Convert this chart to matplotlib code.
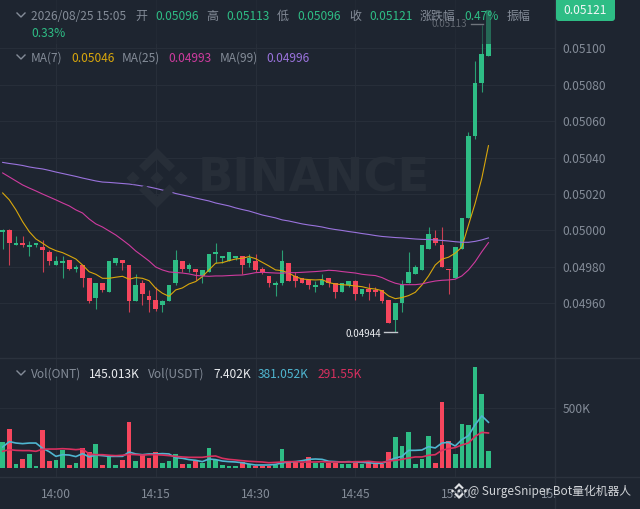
import matplotlib
matplotlib.use('Agg')
import matplotlib.pyplot as plt
from matplotlib.patches import Polygon, Rectangle, FancyBboxPatch
import numpy as np

plt.rcParams['font.family'] = ['Noto Sans CJK SC', 'DejaVu Sans']

# prices are in units of 0.00001
opens = [4999,5000,4992,4993,4991,4992,4991,4988,4981,4982,4984,4979,4981,4974,4963,4971,4966,4982,4984,4981,4961,4971,4964,4962,4959,4961,4971,4983,4979,4979,4975,4977,4987,4985,4983,4985,4986,4982,4983,4979,4975,4970,4971,4982,4975,4974,4973,4969,4970,4974,4971,4966,4970,4972,4965,4968,4967,4967,4962,4951,4960,4971,4976,4978,4990,4996,4992,4979,4974,4990,5007,5052,5081,5096]
highs = [5001,5001,4997,4997,4994,4993,4995,4989,4986,4986,4984,4981,4981,4974,4971,4971,4983,4985,4984,4981,4976,4973,4967,4969,4962,4970,4989,4983,4982,4979,4978,4987,4993,4986,4988,4986,4986,4987,4987,4980,4975,4972,4989,4982,4977,4974,4973,4972,4976,4974,4971,4971,4972,4973,4968,4971,4969,4967,4962,4960,4973,4988,4981,4992,5002,5000,5002,4979,4991,5007,5054,5093,5113,5121]
lows = [4990,4981,4992,4991,4986,4991,4977,4981,4981,4974,4978,4977,4969,4960,4957,4966,4966,4981,4978,4955,4961,4959,4955,4956,4955,4961,4970,4977,4977,4973,4971,4977,4982,4982,4983,4984,4976,4980,4977,4976,4969,4964,4970,4972,4969,4971,4968,4966,4970,4969,4963,4966,4969,4962,4964,4962,4964,4960,4949,4944,4955,4971,4976,4978,4990,4992,4980,4965,4974,4990,5007,5050,5076,5096]
closes = [5000,4993,4993,4992,4992,4993,4989,4983,4983,4983,4979,4980,4974,4961,4971,4967,4983,4985,4982,4961,4970,4965,4962,4957,4961,4970,4984,4979,4981,4977,4978,4987,4988,4986,4988,4986,4981,4985,4978,4977,4971,4971,4983,4972,4972,4971,4970,4970,4973,4971,4966,4971,4972,4965,4968,4966,4966,4961,4949,4960,4970,4977,4980,4992,4998,4993,4980,4978,4991,5007,5052,5081,5097,5121]

ma7 = [5020.6,5016.8,5011.3,5004.8,4999.3,4995.3,4993,4990.5,4988.9,4987.8,4986.1,4984.3,4981,4977.3,4975.9,4973.7,4973.7,4974.3,4974.8,4973.2,4974.1,4973.7,4972.4,4968.2,4965.5,4963.8,4967.3,4968.4,4970.6,4971.9,4974.6,4978.3,4982,4982.3,4983.4,4984.3,4984.7,4985.6,4984.5,4982.5,4980.5,4978.3,4977.9,4976.5,4974.6,4973.3,4973,4972.8,4973,4971.3,4970.6,4970.2,4969.9,4969.5,4969.1,4968.2,4967.8,4966.9,4964,4962.5,4963.1,4964.2,4966,4970,4975,4981,4984.2,4985.3,4987.5,4990.8,5003,5014.9,5028.7,5046.6]
ma25 = [5031.6,5029.4,5027.2,5025,5023.3,5021.7,5020,5018.4,5016.8,5015.1,5013.5,5011.3,5009.6,5006.3,5003.6,5001.9,4999.7,4997.5,4994.8,4992,4988.7,4986,4983.2,4979.9,4978.3,4977.2,4976.9,4976.6,4976.1,4975.3,4975,4974.8,4975,4975,4975.2,4975.4,4975.5,4976.1,4976.8,4977,4976.8,4976.6,4976.5,4976.8,4976.8,4977,4977.2,4977.4,4977.7,4978.1,4977.9,4977.4,4977,4976.6,4975.9,4975.5,4975.2,4974.1,4972.4,4971,4970.2,4970.2,4970.2,4970.6,4971.5,4972.2,4972.6,4972.8,4973.2,4975,4978.3,4982.8,4988.3,4993.3]
ma99 = [5037.4,5036.8,5036.3,5035.7,5034.9,5034.3,5033.8,5033,5032.1,5031.3,5030.5,5029.7,5028.8,5028,5027.2,5026.6,5026.4,5026.1,5025.8,5025.5,5025,5024.4,5023.9,5023.1,5022.2,5021.4,5020.3,5019.5,5018.7,5017.8,5017,5016.2,5015.1,5014.3,5013.5,5012.4,5011.5,5010.7,5009.6,5008.5,5007.7,5006.9,5005.8,5005.2,5004.4,5003.6,5003,5002.5,5001.9,5001.1,5000.5,5000,4999.4,4998.9,4998.3,4997.8,4997.2,4996.7,4996.4,4996.1,4995.9,4995.6,4995.3,4995.1,4995,4994.8,4994.5,4994.2,4993.8,4993.5,4993.5,4994,4994.8,4995.9]

# volume, in thousands
volume = [220,325,33,75,117,20,314,58,70,153,25,44,170,136,197,25,97,25,70,381,58,106,81,136,39,58,117,36,36,58,39,167,67,28,20,17,47,30,20,20,20,28,158,47,47,42,92,39,39,42,42,36,36,42,33,42,36,36,136,261,183,303,33,72,264,42,553,225,114,370,361,842,617,145]
vol_ma_a = [175,220,208,203,208,208,164,136,97,111,108,95,120,92,108,103,97,97,97,133,117,111,117,117,120,117,86,81,70,64,53,75,70,58,53,50,44,33,25,25,25,30,42,50,53,61,72,75,72,56,53,50,53,50,47,44,39,39,61,83,97,147,147,150,178,167,208,214,183,236,270,361,434,381]
vol_ma_b = [139,153,147,145,145,139,156,158,158,161,158,153,158,117,111,111,106,103,106,114,111,108,111,111,108,103,97,92,89,89,89,97,100,81,72,67,61,56,53,50,44,47,50,53,53,50,50,50,53,50,50,50,50,53,53,56,50,47,58,64,72,83,92,92,106,111,147,161,170,192,208,264,297,291.55]

price_ticks = [4960,4980,5000,5020,5040,5060,5080,5100]
time_pos = [8,23,38,53,68,83]
time_labels = ['14:00','14:15','14:30','14:45','15:00','15:15']

BG = '#1e2530'
GRID = '#272e39'
GREEN = '#2ebd85'
RED = '#f6465d'
GREY = '#848c98'
MARK = '#272e38'
W, H = 640, 509
idx = np.arange(len(opens))


def px_axes(x0, y0, x1, y1):
    return fig.add_axes([x0/W, 1-y1/H, (x1-x0)/W, (y1-y0)/H])


def logo(ax, cx, cy, r, color, z=1):
    top = [(0,-1),(.6,-.4),(.41,-.21),(0,-.62),(-.41,-.21),(-.6,-.4)]
    bot = [(x,-y) for x,y in top]
    d = .22
    parts = [top, bot]
    for ox in (-.8, 0, .8):
        parts.append([(ox,-d),(ox+d,0),(ox,d),(ox-d,0)])
    for p in parts:
        ax.add_patch(Polygon([(cx+x*r, cy+y*r) for x,y in p], fc=color, ec='none', zorder=z))


fig = plt.figure(figsize=(W/100, H/100), dpi=100, facecolor=BG)

# price panel
ax = px_axes(0, 0, 555, 358)
ax.set_facecolor(BG)
ax.set_xlim(-0.4, 82.85)
ax.set_ylim(0.049299, 0.0512665)
ax.set_yticks([p/1e5 for p in price_ticks])
ax.set_yticklabels(['%.5f' % (p/1e5) for p in price_ticks])
ax.yaxis.tick_right()
ax.tick_params(axis='y', length=0, pad=5.5, labelsize=8.6, labelcolor=GREY)
ax.set_xticks(time_pos)
ax.tick_params(axis='x', length=0, labelbottom=False)
ax.grid(color=GRID, lw=0.8)
ax.set_axisbelow(True)
for s in ax.spines.values():
    s.set_visible(False)

o, h, l, c = [np.array(a)/1e5 for a in (opens, highs, lows, closes)]
cols = [GREEN if closes[i] >= opens[i] else RED for i in idx]
ax.vlines(idx, l, h, colors=cols, lw=0.8, alpha=0.8, zorder=3)
ax.bar(idx, np.abs(c-o), bottom=np.minimum(o, c), width=0.7, color=cols, zorder=3)
ax.plot(idx, np.array(ma7)/1e5, color='#d9a70c', lw=0.8, zorder=4)
ax.plot(idx, np.array(ma25)/1e5, color='#cf3b9f', lw=0.8, zorder=4)
ax.plot(idx, np.array(ma99)/1e5, color='#9a73dd', lw=0.8, zorder=4)

# volume panel
vx = px_axes(0, 358, 555, 477)
vx.set_facecolor(BG)
vx.set_xlim(-0.4, 82.85)
vx.set_ylim(-75, 916.7)
vx.set_yticks([500])
vx.set_yticklabels(['500K'])
vx.yaxis.tick_right()
vx.tick_params(axis='y', length=0, pad=5.5, labelsize=8.6, labelcolor=GREY)
vx.set_xticks(time_pos)
vx.tick_params(axis='x', length=0, labelbottom=False)
vx.grid(color=GRID, lw=0.8)
vx.set_axisbelow(True)
for s in vx.spines.values():
    s.set_visible(False)
vx.bar(idx, volume, width=0.7, color=cols, zorder=3)
vx.plot(idx, vol_ma_a, color='#4fb6d0', lw=1.2, zorder=4)
vx.plot(idx, vol_ma_b, color='#d8305f', lw=1.2, zorder=4)

# time axis
tx = px_axes(0, 477, 555, 509)
tx.set_facecolor(BG)
tx.set_xlim(-0.4, 82.85)
tx.set_ylim(1, 0)
tx.axis('off')
for p, t in zip(time_pos, time_labels):
    tx.text(p, 0.55, t, color=GREY, fontsize=8.6, ha='center', va='center', clip_on=True)

# overlay in pixels for legends, watermark and separators
ov = fig.add_axes([0, 0, 1, 1], facecolor='none')
ov.set_xlim(0, W)
ov.set_ylim(H, 0)
ov.axis('off')

logo(ov, 157, 178, 30, MARK)
ov.text(313.5, 179, 'BINANCE', color=MARK, fontsize=33.5, fontweight='bold', family='DejaVu Sans',
        ha='center', va='center', zorder=1)

ov.plot([0, 640], [358, 358], color='#2b323d', lw=1)
ov.plot([0, 640], [477, 477], color='#2b323d', lw=1)
ov.plot([555, 555], [0, 509], color='#2b323d', lw=1)

# high and low markers
ov.text(467, 24, '0.05113', color='#b4b9c0', fontsize=7, ha='right', va='center', zorder=5)
ov.plot([471, 483], [24, 24], color='#d4d7dc', lw=1, zorder=5)
ov.text(381, 334, '0.04944', color='#eaecef', fontsize=7, ha='right', va='center', zorder=5)
ov.plot([384, 397], [332, 332], color='#c4c8ce', lw=1, zorder=5)

# legend background dims what runs behind it
ov.add_patch(Rectangle((0, 0), 534, 44, fc=BG, ec='none', alpha=0.55, zorder=6))


def label(x, y, s, color=GREY):
    ov.text(x, y, s, color=color, fontsize=8.6, ha='left', va='center', zorder=7)


def chevron(x, y):
    ov.plot([x-4, x, x+4], [y-2, y+2, y-2], color=GREY, lw=1, zorder=7)


chevron(21, 15)
label(31, 16, '2026/08/25 15:05')
label(135, 16, '开')
label(155, 16, '0.05096', GREEN)
label(206, 16, '高')
label(226, 16, '0.05113', GREEN)
label(277, 16, '低')
label(297, 16, '0.05096', GREEN)
label(349, 16, '收')
label(369, 16, '0.05121', GREEN)
label(420, 16, '涨跌幅')
label(464, 16, '0.47%', GREEN)
label(507, 16, '振幅')
label(31, 33, '0.33%', GREEN)

chevron(21, 57)
label(31, 58, 'MA(7)')
label(71, 58, '0.05046', '#d9a70c')
label(122, 58, 'MA(25)')
label(168, 58, '0.04993', '#cf3b9f')
label(220, 58, 'MA(99)')
label(266, 58, '0.04996', '#9a73dd')

chevron(21, 373)
label(31, 374, 'Vol(ONT)')
label(89, 374, '145.013K', '#eaecef')
label(148, 374, 'Vol(USDT)')
label(213, 374, '7.402K', '#eaecef')
label(258, 374, '381.052K', '#4fb6d0')
label(318, 374, '291.55K', '#d8305f')

# last price tag
ov.add_patch(FancyBboxPatch((556, -6), 59, 27, boxstyle='round,pad=0,rounding_size=3',
                            fc=GREEN, ec='none', zorder=7))
ov.text(585.5, 10, '0.05121', color='#f4f6f7', fontsize=8.6, ha='center', va='center', zorder=8)

# bottom watermark
logo(ov, 459, 491, 8, '#dfe1e4', z=8)
ov.text(468, 491, '@ SurgeSniper Bot量化机器人', color='#d0d3d7', fontsize=8.5, ha='left', va='center', zorder=8)

fig.savefig('out.png', dpi=100, facecolor=BG)
